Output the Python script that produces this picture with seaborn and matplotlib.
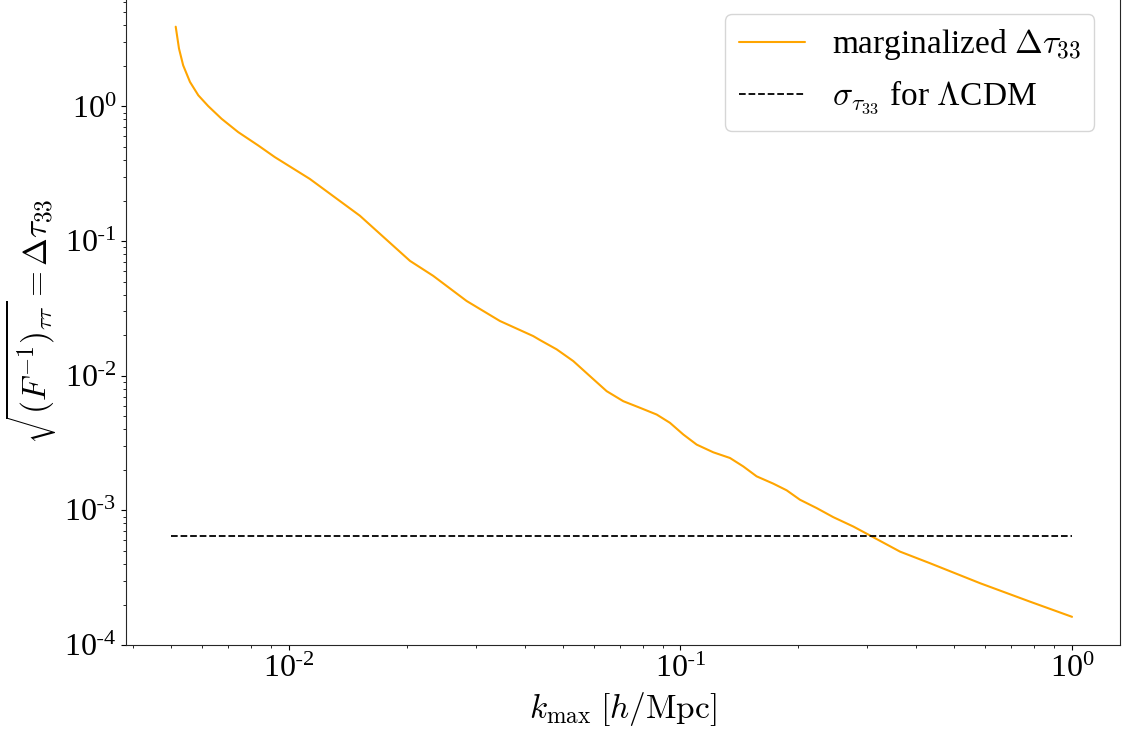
import numpy as np
import matplotlib
matplotlib.use("Agg")
import matplotlib.pyplot as plt
import seaborn as sns
from matplotlib.ticker import FuncFormatter

# values
k_max = [0.00514, 0.00524, 0.00537, 0.00559, 0.00587, 0.00622, 0.00673, 0.00742,
         0.00835, 0.00921, 0.01131, 0.01518, 0.02038, 0.02336, 0.02844, 0.03459,
         0.04207, 0.04377, 0.04829, 0.05324, 0.05873, 0.0648, 0.07145, 0.07882,
         0.08695, 0.09401, 0.1017, 0.110, 0.1213, 0.1338, 0.1447, 0.1565, 0.1726,
         0.1867, 0.2019, 0.2228, 0.2456, 0.2763, 0.3139, 0.3637, 0.4339, 0.5821,
         0.781, 1.0]
delta_tau = [3.91, 2.69, 2.02, 1.52, 1.21, 1.007, 0.810, 0.645,
             0.513, 0.420, 0.2895, 0.1543, 0.0713, 0.0552, 0.0359, 0.0255,
             0.0197, 0.01841, 0.0157, 0.01285, 0.00993, 0.00768, 0.00647, 0.00578,
             0.00515, 0.00447, 0.00366, 0.00308, 0.0027, 0.00245, 0.00212, 0.00179, 0.00158,
             0.00141, 0.0012, 0.00104, 0.000891, 0.000759, 0.000622, 0.000494, 0.000405, 0.000288,
             0.00021, 0.000162]
lcdm_x = [0.005, 1.0]
lcdm_sigma = 6.4e-4

sns.set_style("ticks")
plt.rcParams['font.family'] = ['Liberation Serif', 'DejaVu Serif']
plt.rcParams['mathtext.fontset'] = 'cm'
plt.rcParams['text.color'] = 'black'
plt.rcParams['axes.labelcolor'] = 'black'
plt.rcParams['xtick.color'] = 'black'
plt.rcParams['ytick.color'] = 'black'

fig = plt.figure(figsize=(11.26, 7.31), dpi=100)
ax = fig.add_axes([0.1119, 0.1176, 0.8828, 0.8860])

sns.lineplot(x=k_max, y=delta_tau, color='orange', lw=1.5, ax=ax,
             label=r'marginalized $\Delta\tau_{33}$')
sns.lineplot(x=lcdm_x, y=[lcdm_sigma] * len(lcdm_x), color='black', lw=1.3,
             linestyle='--', ax=ax, label=r'$\sigma_{\tau_{33}}$ for $\Lambda$CDM')

ax.set_xscale('log')
ax.set_yscale('log')
ax.set_xlim(10 ** -2.416, 10 ** 0.1226)
ax.set_ylim(1e-4, 10 ** 0.81)

def sci(v, pos):
    e = int(round(np.log10(v)))
    if e < 0:
        return r'$\mathregular{10^{\text{-}%d}}$' % abs(e)
    return r'$\mathregular{10^{%d}}$' % e

ax.xaxis.set_major_formatter(FuncFormatter(sci))
ax.yaxis.set_major_formatter(FuncFormatter(sci))
ax.tick_params(labelsize=23)

ax.set_xlabel(r'$k_{\rm max}$ $[h/{\rm Mpc}]$', fontsize=24)
ax.set_ylabel(r'$\sqrt{(F^{-1})_{\tau\tau}} = \Delta\tau_{33}$', fontsize=24)

ax.legend(loc='upper right', fontsize=24, bbox_to_anchor=(0.991, 1.0))

fig.savefig('out.png', dpi=100)
